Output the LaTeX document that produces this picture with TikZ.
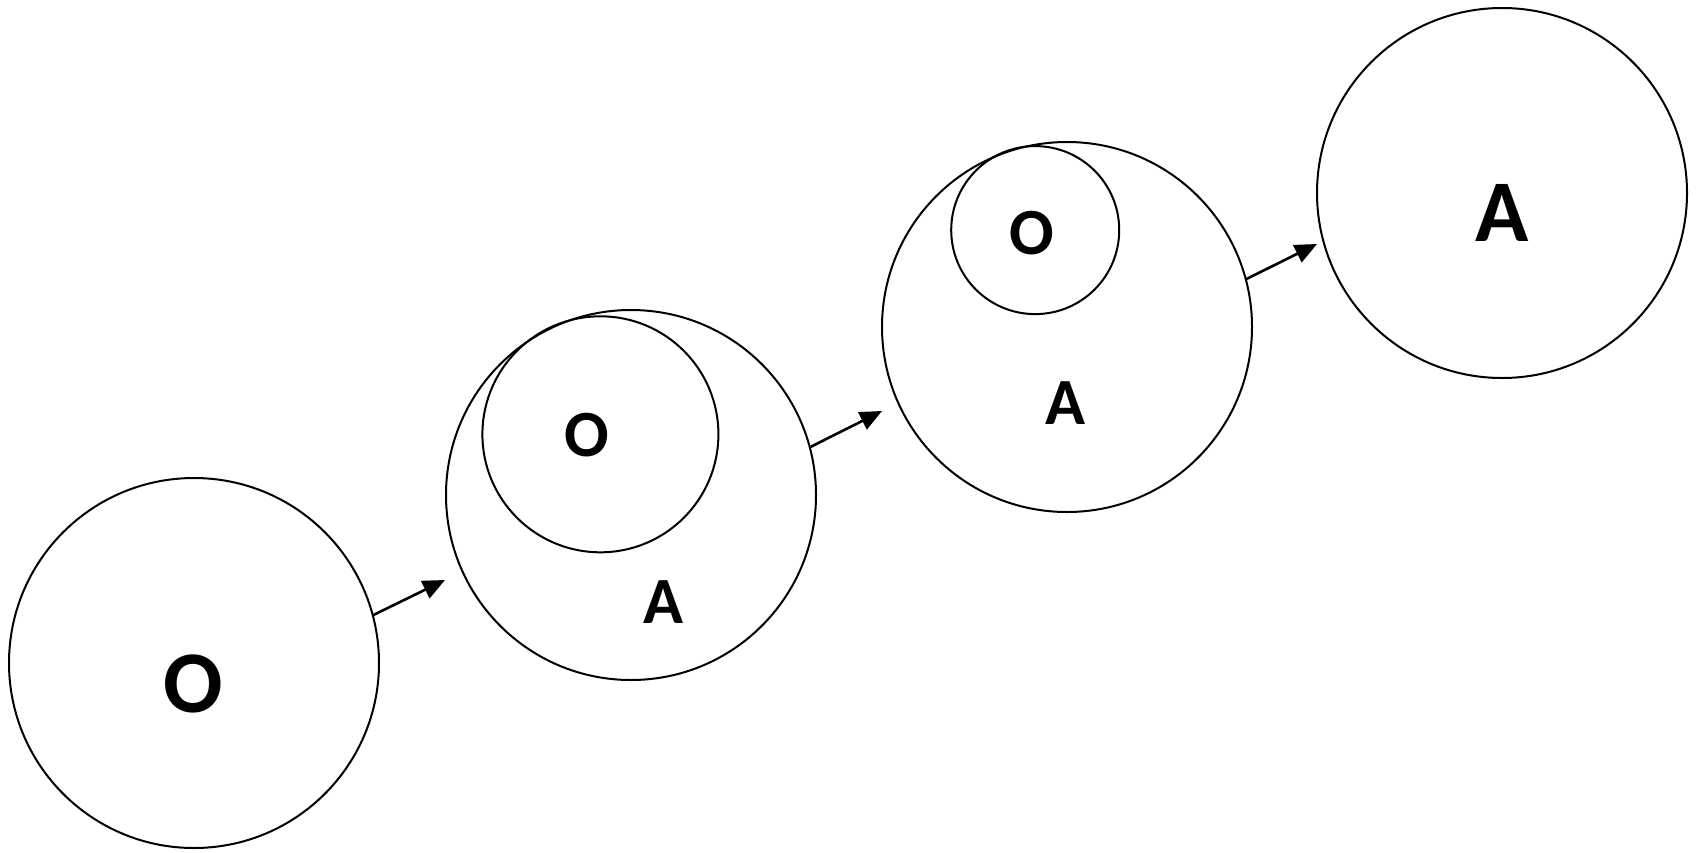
\documentclass[tikz,border=0pt]{standalone}
\usepackage{fontspec}
\setmainfont{Carlito}
\usetikzlibrary{arrows.meta}
\tikzset{
  ring/.style={circle, draw, line width=2pt, inner sep=0pt, minimum size=#1},
  biglabel/.style={inner sep=0pt, font=\bfseries\fontsize{88}{88}\selectfont},
  smalllabel/.style={inner sep=0pt, font=\bfseries\fontsize{66}{66}\selectfont},
  flow/.style={line width=2.6pt, -{Triangle[length=22pt,width=19pt]}}
}
\begin{document}
\begin{tikzpicture}[x=1pt,y=-1pt]
\useasboundingbox (0,0) rectangle (1696,852);
% stage 1
\node[ring=370pt] (c1) at (194,663) {};
\node[biglabel] (l1) at (193,684) {O};
% stage 2
\node[ring=370pt] (c2) at (631,495) {};
\node[ring=236pt] (c2i) at (600.4,434.3) {};
\node[smalllabel] (l2o) at (587,435) {O};
\node[smalllabel] (l2a) at (663,602) {A};
% stage 3
\node[ring=370pt] (c3) at (1067,327) {};
\node[ring=168pt] (c3i) at (1035.2,230.1) {};
\node[smalllabel] (l3o) at (1032,233) {O};
\node[smalllabel] (l3a) at (1065,403) {A};
% stage 4
\node[ring=370pt] (c4) at (1502,193) {};
\node[biglabel] (l4) at (1502,213) {A};
% arrow tips
\coordinate (t1) at (445,580);
\coordinate (t2) at (882,411);
\coordinate (t3) at (1317,244);
\draw[flow] (c1.15) -- (t1);
\draw[flow] (c2.15) -- (t2);
\draw[flow] (c3.15) -- (t3);
\end{tikzpicture}
\end{document}
